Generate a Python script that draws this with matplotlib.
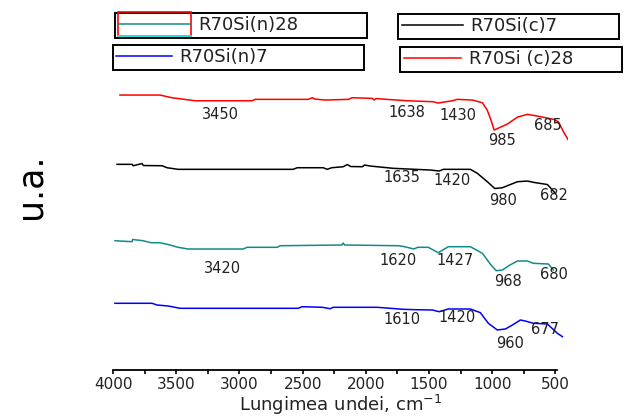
import matplotlib
matplotlib.use("Agg")
import matplotlib.pyplot as plt
from matplotlib.lines import Line2D
from matplotlib.patches import Rectangle
from matplotlib.legend_handler import HandlerBase
from matplotlib.ticker import MultipleLocator

# spectre IR, unitati arbitrare (curbele sunt deja decalate pe verticala)
wn_c28 = [3945, 3628, 3533, 3454, 3351, 2900, 2876, 2456, 2424, 2401, 2321, 2139, 2108,
          1949, 1935, 1920, 1870, 1672, 1466, 1430, 1316, 1276, 1158, 1078, 1040, 1010,
          985, 880, 800, 722, 643, 516, 477, 437, 398]
ua_c28 = [2.750, 2.750, 2.723, 2.710, 2.693, 2.693, 2.707, 2.707, 2.723, 2.710, 2.700, 2.707, 2.723,
          2.717, 2.700, 2.715, 2.710, 2.693, 2.683, 2.670, 2.693, 2.707, 2.700, 2.673, 2.600, 2.500,
          2.400, 2.460, 2.530, 2.557, 2.540, 2.507, 2.483, 2.383, 2.300]

wn_c7 = [3968, 3850, 3840, 3770, 3760, 3612, 3572, 3485, 2575, 2543, 2337, 2306, 2270,
         2179, 2147, 2120, 2028, 2010, 1965, 1783, 1490, 1420, 1387, 1173, 1118, 1039,
         980, 920, 801, 722, 675, 564, 524, 500]
ua_c7 = [2.057, 2.057, 2.043, 2.065, 2.045, 2.043, 2.023, 2.007, 2.007, 2.023, 2.023, 2.007, 2.023,
         2.033, 2.055, 2.035, 2.033, 2.050, 2.040, 2.017, 2.000, 1.990, 2.007, 2.007, 1.967, 1.883,
         1.815, 1.823, 1.883, 1.890, 1.877, 1.855, 1.800, 1.767]

wn_n28 = [3984, 3850, 3845, 3762, 3700, 3628, 3549, 3485, 3406, 2971, 2939, 2701, 2678,
          2190, 2179, 2168, 1743, 1700, 1620, 1590, 1506, 1427, 1348, 1173, 1078, 1010,
          968, 920, 860, 801, 722, 675, 556, 516]
ua_n28 = [1.293, 1.283, 1.305, 1.293, 1.273, 1.273, 1.250, 1.227, 1.210, 1.210, 1.227, 1.227, 1.243,
          1.250, 1.270, 1.250, 1.243, 1.235, 1.210, 1.227, 1.227, 1.173, 1.233, 1.233, 1.167, 1.050,
          0.993, 1.000, 1.050, 1.090, 1.090, 1.067, 1.060, 1.000]

wn_n7 = [3985, 3691, 3652, 3564, 3470, 2535, 2504, 2345, 2282, 2258, 1910, 1704, 1610,
         1474, 1420, 1348, 1173, 1094, 1031, 960, 896, 840, 778, 740, 675, 564, 485, 445]
ua_n7 = [0.667, 0.667, 0.650, 0.640, 0.617, 0.617, 0.633, 0.627, 0.613, 0.627, 0.627, 0.607, 0.603,
         0.600, 0.583, 0.610, 0.610, 0.573, 0.467, 0.400, 0.410, 0.450, 0.500, 0.490, 0.467, 0.460,
         0.367, 0.333]

# benzile notate pe fiecare spectru
peaks_c28 = [3450, 1638, 1430, 985, 685]
peaks_c7 = [1635, 1420, 980, 682]
peaks_n28 = [3420, 1620, 1427, 968, 680]
peaks_n7 = [1610, 1420, 960, 677]

# pozitia etichetelor (cm-1, u.a.)
pos_c28 = [(3153, 2.557), (1672, 2.580), (1268, 2.543), (920, 2.300), (564, 2.443)]
pos_c7 = [(1712, 1.923), (1316, 1.900), (912, 1.700), (516, 1.750)]
pos_n28 = [(3137, 1.017), (1743, 1.100), (1292, 1.100), (873, 0.883), (516, 0.957)]
pos_n7 = [(1712, 0.507), (1276, 0.523), (857, 0.267), (580, 0.400)]

teal = "#138a8a"

fig = plt.figure(figsize=(6.41, 4.19), dpi=100)
ax = fig.add_axes([0.1763, 0.117, 0.710, 0.680])

l_c28, = ax.plot(wn_c28, ua_c28, color="red", lw=1.1)
l_c7, = ax.plot(wn_c7, ua_c7, color="black", lw=1.1)
l_n28, = ax.plot(wn_n28, ua_n28, color=teal, lw=1.1)
l_n7, = ax.plot(wn_n7, ua_n7, color="blue", lw=1.1)

for peaks, pos in [(peaks_c28, pos_c28), (peaks_c7, pos_c7),
                   (peaks_n28, pos_n28), (peaks_n7, pos_n7)]:
    for p, (x, y) in zip(peaks, pos):
        ax.text(x, y, str(p), ha="center", va="center", fontsize=10.5, color="#222222")

ax.set_xlim(4000, 400)
ax.set_ylim(0, 2.85)
ax.xaxis.set_major_locator(MultipleLocator(500))
ax.xaxis.set_minor_locator(MultipleLocator(250))
ax.tick_params(axis="x", which="both", direction="out", length=3, width=1.2,
               labelsize=11, pad=2, labelcolor="#222222")
ax.set_yticks([])
for s in ["left", "right", "top"]:
    ax.spines[s].set_visible(False)
ax.spines["bottom"].set_bounds(4000, 485)
ax.spines["bottom"].set_linewidth(1.3)
ax.set_xlabel("Lungimea undei, cm$^{-1}$", fontsize=13, labelpad=1, color="#222222")

fig.text(0.047, 1 - 186 / 419, "u.a.", rotation=90, fontsize=25, ha="center", va="center")


class BoxHandler(HandlerBase):
    # dreptunghi rosu cu linie verde-albastra la mijloc
    def create_artists(self, legend, orig_handle, xdescent, ydescent, width, height,
                       fontsize, trans):
        x0, y0 = -xdescent, -ydescent
        rect = Rectangle((x0, y0 - 0.45 * height), width, 1.9 * height, fill=False,
                         edgecolor="red", lw=1.2, transform=trans)
        mid = Line2D([x0, x0 + width], [y0 + height / 2] * 2, color=teal, lw=1.1, transform=trans)
        bot = Line2D([x0, x0 + width], [y0 - 0.45 * height] * 2, color="cyan", lw=1.2,
                     transform=trans)
        return [rect, mid, bot]


def box(handle, label, x0, top, w, hlen, hmap=None):
    leg = fig.legend([handle], [label], loc="upper left", bbox_to_anchor=(x0, top - 0.1, w, 0.1),
                     mode="expand", borderaxespad=0, fancybox=False, edgecolor="black",
                     framealpha=1, fontsize=13, handlelength=hlen, borderpad=0.2,
                     handletextpad=0.4, handler_map=hmap)
    leg.get_frame().set_linewidth(1.4)
    for t in leg.get_texts():
        t.set_color("#222222")
    return leg


box(l_n28, "R70Si(n)28", 0.179, 0.970, 0.393, 4.0, {l_n28: BoxHandler()})
box(l_c7, "R70Si(c)7", 0.621, 0.967, 0.345, 3.4)
box(l_n7, "R70Si(n)7", 0.176, 0.893, 0.392, 3.1)
box(l_c28, "R70Si (c)28", 0.624, 0.889, 0.346, 3.2)

fig.savefig("out.png", dpi=100)
